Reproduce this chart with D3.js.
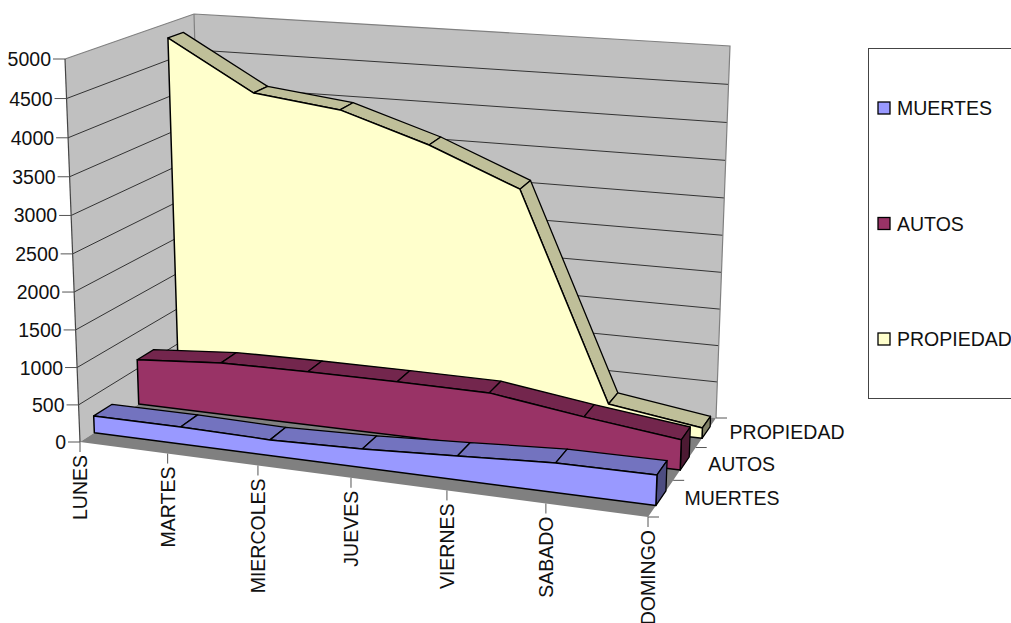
<!DOCTYPE html>
<html>
<head>
<meta charset="utf-8">
<script src="https://cdn.jsdelivr.net/npm/d3@7"></script>
<style>
  html, body { margin: 0; padding: 0; background: #fff; overflow: hidden; }
  text { font-family: "Liberation Sans", Arial, sans-serif; fill: #111; }
</style>
</head>
<body>
<div id="chart"></div>
<script>
const width = 1011, height = 623;
const fontSize = 19.5;

// data
const days = ["LUNES", "MARTES", "MIERCOLES", "JUEVES", "VIERNES", "SABADO", "DOMINGO"];
const seriesNames = ["MUERTES", "AUTOS", "PROPIEDAD"];
const muertes = [230, 231, 211, 248, 316, 389, 400];
const autos = [625, 717, 733, 738, 732, 558, 405];
const propiedad = [4800, 4135, 3995, 3617, 3125, 326, 142];
const seriesValues = { MUERTES: muertes, AUTOS: autos, PROPIEDAD: propiedad };

const seriesColors = {
    MUERTES: { front: "#9999ff", top: "#7373bf", side: "#4d4d80" },
    AUTOS: { front: "#993366", top: "#73264d", side: "#4d1a33" },
    PROPIEDAD: { front: "#ffffcc", top: "#bfbf99", side: "#808066" }
};

// corners of the plot box on the page, used for the 3d look
const box = {
    bottom: { fl: [80, 442], fr: [648, 517], bl: [204, 362], br: [716, 418] },
    top: { fl: [65, 59], fr: [663, 118], bl: [194, 14], br: [730, 46] }
};

const xScale = d3.scalePoint().domain(days).range([0, 1]);
const zScale = d3.scaleBand().domain(seriesNames).range([0, 1]).paddingInner(0.6).paddingOuter(0.3);
const yScale = d3.scaleLinear().domain([0, 5000]).range([0, 1]);
const legendScale = d3.scalePoint().domain(seriesNames).range([108, 339]);

// perspective makes the far part of each axis a bit shorter
const warpX = u => u / (u + (1 - u) * 1.096);
const warpY = v => v / (v + (1 - v) * 1.036);
const warpZ = w => w / (w + (1 - w) * 0.85);

const lerp = (a, b, t) => [a[0] + (b[0] - a[0]) * t, a[1] + (b[1] - a[1]) * t];

function project(u, value, w) {
    const fu = warpX(u), fw = warpZ(w), fv = warpY(yScale(value));
    const level = c => lerp(lerp(c.fl, c.fr, fu), lerp(c.bl, c.br, fu), fw);
    return lerp(level(box.bottom), level(box.top), fv);
}

const svg = d3.select("#chart").append("svg")
    .attr("width", width)
    .attr("height", height)
    .style("display", "block");

const line = d3.line();

function poly(g, pts, fill, stroke, strokeWidth) {
    return g.append("path")
        .attr("d", line(pts) + "Z")
        .attr("fill", fill)
        .attr("stroke", stroke)
        .attr("stroke-width", strokeWidth)
        .attr("stroke-linejoin", "round");
}

// walls and floor
const wallG = svg.append("g");
const maxV = yScale.domain()[1];
poly(wallG, [project(0, 0, 0), project(0, maxV, 0), project(0, maxV, 1), project(0, 0, 1)], "#c0c0c0", "none", 0);
poly(wallG, [project(0, 0, 1), project(0, maxV, 1), project(1, maxV, 1), project(1, 0, 1)], "#c0c0c0", "none", 0);
poly(wallG, [project(0, 0, 0), project(1, 0, 0), project(1, 0, 1), project(0, 0, 1)], "#808080", "none", 0);

const yTicks = yScale.ticks(10);

// gridlines on both walls
yTicks.filter(t => t > 0 && t < maxV).forEach(t => {
    wallG.append("path")
        .attr("d", line([project(0, t, 0), project(0, t, 1), project(1, t, 1)]))
        .attr("fill", "none")
        .attr("stroke", "#222")
        .attr("stroke-width", 0.9);
});

// wall edges
wallG.append("path")
    .attr("d", line([project(0, maxV, 0), project(0, maxV, 1), project(1, maxV, 1), project(1, 0, 1)]))
    .attr("fill", "none").attr("stroke", "#808080").attr("stroke-width", 1.2);
wallG.append("path")
    .attr("d", line([project(0, maxV, 1), project(0, 0, 1)]))
    .attr("fill", "none").attr("stroke", "#808080").attr("stroke-width", 1.2);
wallG.append("path")
    .attr("d", line([project(0, maxV, 0), project(0, 0, 0)]))
    .attr("fill", "none").attr("stroke", "#444").attr("stroke-width", 1.2);

// value axis
const yAxisG = svg.append("g").attr("class", "yAxisG");
yTicks.forEach(t => {
    const p = project(0, t, 0);
    yAxisG.append("line")
        .attr("x1", p[0] - 12).attr("x2", p[0])
        .attr("y1", p[1]).attr("y2", p[1])
        .attr("stroke", "#555").attr("stroke-width", 1);
    yAxisG.append("text")
        .attr("x", p[0] - 14)
        .attr("y", p[1])
        .attr("dy", "0.36em")
        .attr("text-anchor", "end")
        .attr("font-size", fontSize)
        .text(t);
});

// day axis
const xAxisG = svg.append("g").attr("class", "xAxisG");
days.forEach(d => {
    const p = project(xScale(d), 0, 0);
    xAxisG.append("line")
        .attr("x1", p[0]).attr("x2", p[0])
        .attr("y1", p[1]).attr("y2", p[1] + 10)
        .attr("stroke", "#555").attr("stroke-width", 1);
    xAxisG.append("text")
        .attr("transform", "translate(" + p[0] + "," + (p[1] + 13) + ") rotate(-90)")
        .attr("dy", "0.36em")
        .attr("text-anchor", "end")
        .attr("font-size", fontSize)
        .text(d);
});

// series axis on the right side of the floor
const zAxisG = svg.append("g").attr("class", "zAxisG");
d3.range(seriesNames.length + 1).forEach(i => {
    const p = project(1, 0, i / seriesNames.length);
    zAxisG.append("line")
        .attr("x1", p[0]).attr("x2", p[0] + 11)
        .attr("y1", p[1]).attr("y2", p[1])
        .attr("stroke", "#555").attr("stroke-width", 1);
});
seriesNames.forEach((s, i) => {
    const p = project(1, 0, (i + 0.5) / seriesNames.length);
    zAxisG.append("text")
        .attr("x", p[0] + 23.5)
        .attr("y", p[1])
        .attr("dy", "0.36em")
        .attr("font-size", fontSize)
        .text(s);
});

// the areas, far one first
seriesNames.slice().reverse().forEach(s => {
    const g = svg.append("g").attr("class", "area" + s);
    const vals = seriesValues[s];
    const colors = seriesColors[s];
    const zFront = zScale(s), zBack = zFront + zScale.bandwidth();
    const us = days.map(d => xScale(d));

    // top strip, one piece per day interval
    d3.pairs(d3.range(days.length)).forEach(([a, b]) => {
        poly(g, [
            project(us[a], vals[a], zFront),
            project(us[b], vals[b], zFront),
            project(us[b], vals[b], zBack),
            project(us[a], vals[a], zBack)
        ], colors.top, "#000", 1.3);
    });

    // end cap at the last day
    const last = days.length - 1;
    poly(g, [
        project(1, 0, zFront),
        project(1, vals[last], zFront),
        project(1, vals[last], zBack),
        project(1, 0, zBack)
    ], colors.side, "#000", 1.3);

    // front face
    const frontPts = us.map((u, i) => project(u, vals[i], zFront));
    poly(g, [project(0, 0, zFront), ...frontPts, project(1, 0, zFront)], colors.front, "#000", 1.5);
});

// legend, its right side runs off the page
const legendG = svg.append("g").attr("class", "legendG");
legendG.append("rect")
    .attr("x", 868.5).attr("y", 48.5)
    .attr("width", 170).attr("height", 350)
    .attr("fill", "#fff")
    .attr("stroke", "#444").attr("stroke-width", 1);
seriesNames.forEach(s => {
    const y = legendScale(s);
    legendG.append("rect")
        .attr("x", 878).attr("y", y - 6)
        .attr("width", 12).attr("height", 12)
        .attr("fill", seriesColors[s].front)
        .attr("stroke", "#000").attr("stroke-width", 1.3);
    legendG.append("text")
        .attr("x", 897)
        .attr("y", y)
        .attr("dy", "0.36em")
        .attr("font-size", fontSize)
        .text(s);
});
</script>
</body>
</html>
